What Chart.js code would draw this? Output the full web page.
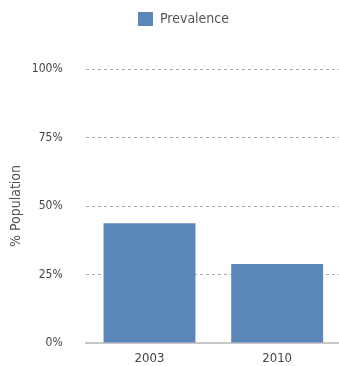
<!DOCTYPE html>
<html>
<head>
<meta charset="utf-8">
<script src="https://cdn.jsdelivr.net/npm/chart.js@4"></script>
<style>
  html, body { margin: 0; padding: 0; background: #fff; overflow: hidden; }
  #wrap { width: 341px; height: 366px; }
</style>
</head>
<body>
<div id="wrap"><canvas id="chart"></canvas></div>
<script>
// Data
const years = ['2003', '2010'];
const prevalence = [43.7, 28.8];
const yTicks = [0, 25, 50, 75, 100];

const FONT = '"DejaVu Sans Condensed", "DejaVu Sans", sans-serif';
const TEXT = '#555';

// push the plot area down below the legend and nudge the legend right
const legendGap = {
    id: 'legendGap',
    beforeInit(chart) {
        const fit = chart.legend.fit;
        chart.legend.fit = function () {
            fit.bind(chart.legend)();
            this.height += 33;
        };
    },
    afterLayout(chart) {
        chart.legend.left += 9;
        chart.legend.right += 9;
    }
};

const ctx = document.getElementById('chart').getContext('2d');
new Chart(ctx, {
    type: 'bar',
    data: {
        labels: years,
        datasets: [{
            label: 'Prevalence',
            data: prevalence,
            backgroundColor: '#5b86b8',
            borderWidth: 0
        }]
    },
    options: {
        responsive: true,
        maintainAspectRatio: false,
        animation: false,
        layout: { padding: { top: 2, left: 8, right: 0, bottom: 0 } },
        plugins: {
            legend: {
                labels: {
                    boxWidth: 15,
                    boxHeight: 14,
                    padding: 10,
                    color: TEXT,
                    font: { family: FONT, size: 14 }
                }
            },
            tooltip: { enabled: false }
        },
        scales: {
            x: {
                // keep the x axis band tight so the plot reaches down like the original
                afterFit: axis => { axis.height = 23; },
                grid: { display: false, drawTicks: false },
                border: { display: true, color: '#c8c8c8', width: 2 },
                ticks: {
                    color: '#444',
                    padding: 8,
                    font: { family: FONT, size: 13 }
                }
            },
            y: {
                min: 0,
                max: 100,
                afterBuildTicks: axis => { axis.ticks = yTicks.map(v => ({ value: v })); },
                // the wide tick padding should not reserve room under the plot
                afterFit: axis => { axis.paddingBottom = 0; axis.paddingTop = 0; },
                grid: {
                    color: ctx => ctx.tick.value === 0 ? 'rgba(0,0,0,0)' : '#aaa',
                    drawTicks: false,
                    lineWidth: 1
                },
                border: { display: false, dash: [3, 3] },
                ticks: {
                    color: '#444',
                    padding: 23,
                    font: { family: FONT, size: 12 },
                    callback: v => v + '%'
                },
                title: {
                    display: true,
                    text: '% Population',
                    color: TEXT,
                    padding: { top: 0, bottom: -16 },
                    font: { family: FONT, size: 14 }
                }
            }
        }
    },
    plugins: [legendGap]
});
</script>
</body>
</html>
